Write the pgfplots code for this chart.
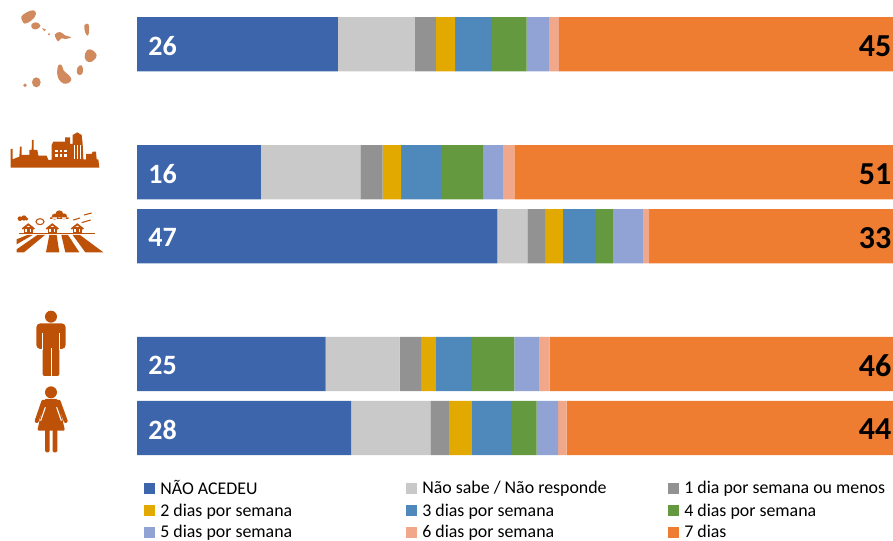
\documentclass[border=0pt]{standalone}
\usepackage{fontspec}
\setmainfont{Carlito}
\usepackage{pgfplots}
\usepackage{pgfplotstable}
\pgfplotsset{compat=1.18}

\definecolor{cA}{HTML}{3D65AB}
\definecolor{cB}{HTML}{C9C9C9}
\definecolor{cC}{HTML}{929292}
\definecolor{cD}{HTML}{E2AA00}
\definecolor{cE}{HTML}{4F89BC}
\definecolor{cF}{HTML}{64993F}
\definecolor{cG}{HTML}{90A3D4}
\definecolor{cH}{HTML}{F1A78A}
\definecolor{cI}{HTML}{EE7D31}
\definecolor{icon}{HTML}{BE5108}
\definecolor{ilha}{HTML}{D08A5E}

% rows: 0 = total, 2/3 = urbano/rural, 5/6 = homem/mulher
\pgfplotstableread{
y a    b    c   d   e   f   g   h   i
0 26.1 10.0 2.7 2.5 4.8 4.5 2.9 1.3 45
2 16.1 12.9 2.9 2.4 5.2 5.5 2.6 1.4 51
3 46.8 3.9  2.3 2.3 4.2 2.3 3.9 0.8 33
5 24.5 9.6  2.8 1.9 4.6 5.6 3.2 1.4 46
6 27.8 10.3 2.4 3.0 5.1 3.3 2.8 1.1 44
}\dados

\newcommand{\ent}[1]{\makebox[182pt][l]{#1}}
\newcommand{\lab}[3]{%
  \node[anchor=west,inner sep=0pt,yshift=-1.2pt,text=white,font=\fontsize{21}{21}\selectfont\bfseries] at (axis cs:1.45,#1) {#2};
  \node[anchor=east,inner sep=0pt,yshift=-1.2pt,text=black,font=\fontsize{24}{24}\selectfont\bfseries] at (axis cs:98,#1) {#3};
}
\newcommand{\ilhafill}[1]{\fill[ilha] plot[smooth cycle,tension=.7] coordinates {#1};}

\begin{document}
\begin{tikzpicture}
\path[use as bounding box] (0,0) rectangle (669.75pt,-405.75pt);

\begin{axis}[
    at={(102.75pt,0pt)}, anchor=north west,
    scale only axis,
    width=567pt, height=352.5pt,
    xbar stacked, bar width=40.7pt,
    xmin=0, xmax=98.18,
    ymin=-0.693, ymax=6.657,
    y dir=reverse,
    axis lines=none,
    legend columns=3,
    legend cell align=left,
    legend style={
        at={(0.0085,-0.016)}, anchor=north west,
        draw=none, fill=none, font=\fontsize{13.4}{14}\selectfont,
        row sep=1.2pt, inner sep=0pt,
        /tikz/every even column/.append style={column sep=0pt},
    },
    legend image code/.code={
        \fill[#1] (0pt,-4.1pt) rectangle (8.25pt,4.1pt);
        \path (10.5pt,0pt);
    },
    after end axis/.code={
        \lab{0}{26}{45}
        \lab{2}{16}{51}
        \lab{3}{47}{33}
        \lab{5}{25}{46}
        \lab{6}{28}{44}
    },
]
\addplot[fill=cA,draw=none] table[x=a,y=y] {\dados};
\addplot[fill=cB,draw=none] table[x=b,y=y] {\dados};
\addplot[fill=cC,draw=none] table[x=c,y=y] {\dados};
\addplot[fill=cD,draw=none] table[x=d,y=y] {\dados};
\addplot[fill=cE,draw=none] table[x=e,y=y] {\dados};
\addplot[fill=cF,draw=none] table[x=f,y=y] {\dados};
\addplot[fill=cG,draw=none] table[x=g,y=y] {\dados};
\addplot[fill=cH,draw=none] table[x=h,y=y] {\dados};
\addplot[fill=cI,draw=none] table[x=i,y=y] {\dados};
\legend{\ent{NÃO ACEDEU},\ent{Não sabe / Não responde},1 dia por semana ou menos,
        \ent{2 dias por semana},\ent{3 dias por semana},4 dias por semana,
        \ent{5 dias por semana},\ent{6 dias por semana},7 dias}
\end{axis}

% icons, in coordinates of 1/3 pixel
\begin{scope}[x=.25pt,y=-.25pt]
  % islands
  \ilhafill{(64,50)(80,37)(100,31)(108,42)(96,60)(75,71)(67,62)}
  \ilhafill{(94,74)(108,67)(121,76)(112,87)(98,86)}
  \fill[ilha] (126,84)--(138,89)--(133,94)--cycle;
  \fill[ilha] (147,103) circle (3.5);
  \ilhafill{(165,103)(180,96)(195,106)(213,112)(196,117)(184,115)(175,124)(168,115)}
  \ilhafill{(253,76)(265,72)(267,90)(264,107)(256,98)}
  \ilhafill{(261,151)(276,150)(290,165)(281,181)(265,186)(254,172)}
  \ilhafill{(233,202)(245,196)(249,215)(241,225)(231,219)}
  \ilhafill{(175,196)(186,197)(191,212)(206,225)(214,240)(200,251)(183,246)(172,225)}
  \fill[ilha] (109,247) ellipse (13 and 15);
  \fill[ilha] (75,256) circle (5.5);

  % city
  \fill[icon] (32,503)--(32,447)--(38,447)--(38,478)--(58,470)--(60,440)--(65,440)--(65,465)--(88,465)--(88,450)--(95,450)--(96,420)--(101,420)--(101,450)--(112,450)--(115,467)--(140,467)--(145,480)--(155,480)--(155,435)--(160,425)--(195,425)--(195,412)--(210,412)--(210,432)--(218,432)--(218,405)--(232,397)--(245,405)--(248,432)--(250,478)--(258,478)--(258,462)--(275,462)--(278,455)--(288,455)--(290,478)--(295,478)--(298,503)--cycle;
  \foreach \xx in {165,179,193}{
    \fill[white] (\xx,449) rectangle +(8,7);
    \fill[white] (\xx,463) rectangle +(8,7);
  }
  \foreach \xx in {223,231,239}{
    \fill[white] (\xx,435) rectangle +(3,42);
  }

  % rural
  \fill[icon] (60,656) circle (7) (72,654) circle (8) (80,657) circle (5);
  \fill[icon] (164,650) circle (9) (178,643) circle (12) (192,649) circle (9) (150,652) rectangle (206,657);
  \draw[icon,line width=.8pt] (120,665) ellipse (12 and 9);
  \draw[icon,line width=.8pt] (220,660)--(240,654) (252,645)--(275,639) (245,668)--(272,660);
  \fill[icon] (56,698) rectangle (285,702);
  \foreach \xx in {85,157,232}{
    \draw[icon,line width=1.3pt] (\xx-18,687)--(\xx,673)--(\xx+18,687);
    \draw[icon,line width=1.1pt] (\xx-11,684) rectangle (\xx+11,699);
    \fill[icon] (\xx-4,687) rectangle (\xx+4,699);
  }
  \fill[icon] (50,718)--(82,705)--(98,705)--(50,733)--cycle;
  \fill[icon] (50,748)--(112,705)--(135,705)--(72,757)--(50,757)--cycle;
  \fill[icon] (148,705)--(170,705)--(178,757)--(138,757)--cycle;
  \fill[icon] (184,705)--(204,705)--(238,757)--(196,757)--cycle;
  \fill[icon] (218,705)--(240,705)--(310,757)--(256,757)--cycle;
\end{scope}

\begin{scope}[x=.25pt,y=-.25pt,shift={(0,900)}]
  % man
  \fill[icon] (153,50) circle (18);
  \fill[icon,rounded corners=3pt] (109,147)--(109,70)--(197,70)--(197,147)--cycle;
  \fill[icon,rounded corners=1.5pt] (128,120) rectangle (178,228);
  \fill[white] (125,100) rectangle (128,150);
  \fill[white] (178,100) rectangle (181,150);
  \fill[white] (151.5,145) rectangle (154.5,228);
  % woman
  \fill[icon] (153,277) circle (18);
  \fill[icon,rounded corners=1pt] (133,297)--(173,297)--(195,392)--(112,392)--cycle;
  \draw[icon,line width=3pt,line cap=round] (130,305)--(110,363) (176,305)--(197,363);
  \draw[white,line width=.8pt] (136,322)--(122,362) (170,322)--(184,362);
  \fill[icon,rounded corners=1pt] (135,385) rectangle (149,457);
  \fill[icon,rounded corners=1pt] (158,385) rectangle (172,457);
\end{scope}
\end{tikzpicture}
\end{document}
